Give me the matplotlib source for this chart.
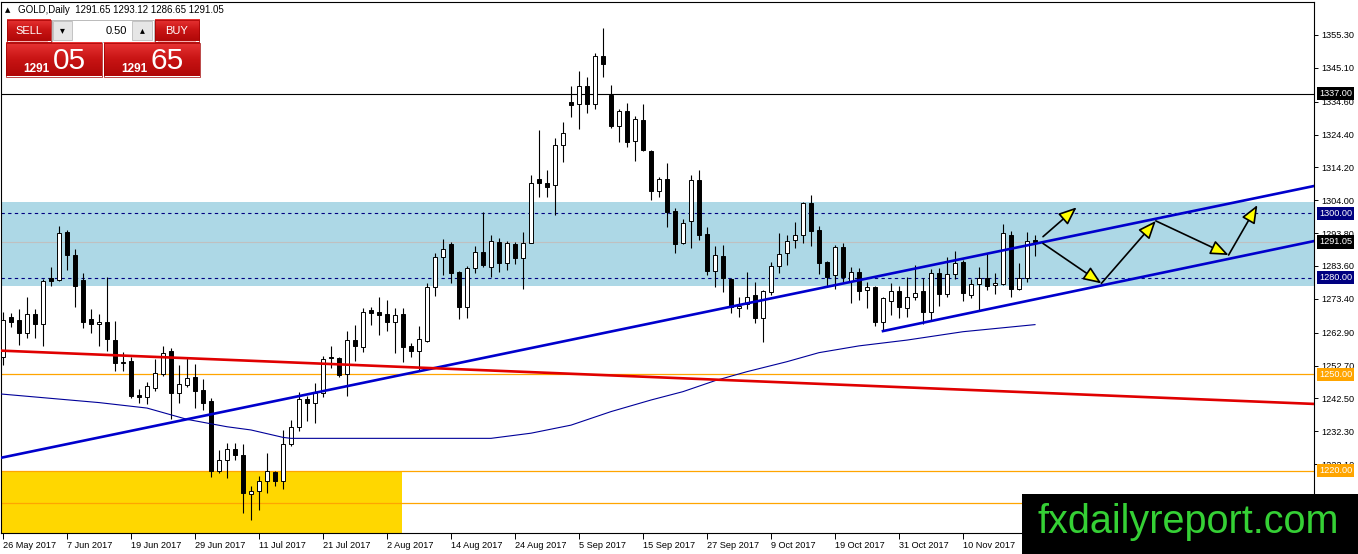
import matplotlib
matplotlib.use("Agg")
import matplotlib.pyplot as plt
import matplotlib.transforms as mtransforms
from matplotlib.patches import Rectangle, FancyArrowPatch
from matplotlib.colors import LinearSegmentedColormap
import numpy as np
import pandas as pd

plt.rcParams['font.family'] = ['Liberation Sans', 'DejaVu Sans']

# ---- data ----
symbol = "GOLD,Daily"
last_quote = [1291.65, 1293.12, 1286.65, 1291.05]   # O H L C of the current bar
first_day = "2017-05-26"

opens = [1255.4, 1267.9, 1266.8, 1262.7, 1268.6, 1265.5, 1280.0, 1279.2, 1294.2, 1287.0,
         1279.3, 1267.1, 1265.5, 1266.1, 1260.6, 1253.6, 1254.1, 1243.6, 1242.8, 1245.8,
         1250.0, 1257.2, 1244.3, 1246.7, 1249.1, 1245.1, 1241.7, 1220.1, 1223.4, 1226.7,
         1224.8, 1212.8, 1213.9, 1217.0, 1219.6, 1217.0, 1228.3, 1233.7, 1242.2, 1241.0,
         1244.1, 1255.3, 1254.9, 1250.1, 1260.6, 1258.5, 1269.9, 1269.2, 1268.7, 1266.3,
         1268.7, 1258.9, 1257.3, 1260.4, 1277.2, 1286.3, 1290.4, 1281.6, 1271.0, 1282.9,
         1287.9, 1283.4, 1291.1, 1284.6, 1290.4, 1286.0, 1290.8, 1310.5, 1309.5, 1308.6,
         1321.1, 1334.6, 1333.8, 1339.5, 1333.8, 1348.8, 1336.7, 1327.1, 1331.8, 1322.5,
         1328.9, 1319.3, 1306.9, 1310.5, 1300.7, 1290.6, 1297.7, 1310.3, 1293.4, 1282.1,
         1286.7, 1279.6, 1270.5, 1271.8, 1274.6, 1267.6, 1275.6, 1283.6, 1287.5, 1291.7,
         1293.2, 1303.1, 1294.8, 1284.7, 1280.8, 1289.6, 1278.9, 1281.7, 1276.1, 1277.0,
         1266.3, 1272.8, 1275.8, 1270.5, 1274.1, 1275.8, 1269.4, 1281.3, 1274.8, 1281.0,
         1284.8, 1274.6, 1277.9, 1280.0, 1277.6, 1278.0, 1293.2, 1276.4, 1280.0, 1291.65]
highs = [1269.4, 1268.9, 1270.2, 1273.9, 1270.2, 1279.5, 1283.4, 1296.0, 1294.8, 1288.8,
         1281.5, 1270.2, 1268.6, 1280.3, 1266.5, 1256.8, 1255.4, 1245.3, 1247.5, 1254.6,
         1258.8, 1258.1, 1252.9, 1255.1, 1253.2, 1248.5, 1242.5, 1226.5, 1228.8, 1228.8,
         1228.3, 1215.3, 1218.4, 1225.5, 1220.0, 1232.7, 1235.8, 1244.4, 1243.2, 1247.4,
         1255.7, 1258.8, 1255.4, 1263.4, 1265.3, 1270.7, 1271.0, 1273.9, 1273.0, 1270.5,
         1270.5, 1259.8, 1265.0, 1278.4, 1287.7, 1291.9, 1291.1, 1282.0, 1283.6, 1289.9,
         1300.5, 1293.2, 1292.2, 1291.5, 1291.1, 1294.1, 1311.8, 1325.8, 1313.4, 1323.2,
         1328.4, 1339.5, 1344.2, 1342.2, 1349.8, 1357.4, 1339.8, 1332.2, 1334.3, 1330.2,
         1333.9, 1319.6, 1311.3, 1315.5, 1301.5, 1298.2, 1311.8, 1313.4, 1295.8, 1289.9,
         1290.0, 1279.8, 1274.1, 1281.6, 1278.5, 1276.2, 1284.9, 1293.7, 1293.2, 1297.2,
         1303.4, 1305.6, 1296.0, 1285.0, 1290.1, 1290.6, 1283.2, 1282.9, 1278.7, 1277.4,
         1274.1, 1278.4, 1277.4, 1280.3, 1283.9, 1280.0, 1282.6, 1282.9, 1286.5, 1288.3,
         1285.5, 1279.5, 1283.2, 1287.7, 1281.3, 1296.6, 1294.5, 1284.4, 1294.2, 1293.12]
lows = [1252.9, 1264.8, 1259.1, 1261.2, 1261.2, 1258.8, 1277.5, 1279.0, 1282.4, 1271.0,
        1264.4, 1262.9, 1258.8, 1257.2, 1251.0, 1251.1, 1242.7, 1241.2, 1240.7, 1244.8,
        1249.5, 1236.2, 1241.2, 1246.1, 1239.4, 1238.9, 1218.0, 1219.3, 1217.8, 1223.4,
        1207.0, 1204.8, 1207.9, 1213.2, 1215.3, 1214.3, 1227.7, 1232.5, 1235.6, 1235.0,
        1243.0, 1251.8, 1249.1, 1243.2, 1254.2, 1257.0, 1265.3, 1262.2, 1263.5, 1256.7,
        1253.9, 1255.3, 1251.1, 1259.9, 1274.3, 1280.8, 1278.4, 1267.1, 1267.6, 1281.5,
        1283.4, 1280.1, 1281.8, 1282.4, 1284.2, 1276.4, 1290.6, 1304.9, 1304.9, 1299.4,
        1316.0, 1329.9, 1326.0, 1331.2, 1332.2, 1342.4, 1326.3, 1322.2, 1320.6, 1316.3,
        1319.4, 1304.1, 1304.9, 1295.6, 1287.7, 1290.4, 1289.1, 1291.7, 1280.8, 1277.2,
        1275.6, 1269.1, 1267.9, 1270.2, 1266.0, 1260.1, 1274.6, 1281.5, 1283.9, 1289.3,
        1290.6, 1289.9, 1281.1, 1277.2, 1276.4, 1278.7, 1272.0, 1273.0, 1270.5, 1265.1,
        1263.4, 1268.4, 1267.4, 1267.7, 1273.0, 1265.6, 1266.8, 1271.2, 1274.1, 1279.5,
        1272.8, 1273.6, 1269.7, 1276.1, 1274.8, 1277.8, 1274.1, 1276.1, 1278.5, 1286.65]
closes = [1266.8, 1266.3, 1262.7, 1268.6, 1265.5, 1278.9, 1279.0, 1293.7, 1287.0, 1277.5,
          1266.3, 1265.5, 1266.1, 1260.8, 1253.6, 1253.8, 1243.2, 1242.8, 1246.4, 1250.3,
          1256.5, 1244.3, 1247.0, 1248.7, 1244.9, 1241.2, 1220.1, 1223.4, 1226.7, 1224.8,
          1213.0, 1213.9, 1217.0, 1220.1, 1217.0, 1228.3, 1233.7, 1242.2, 1241.0, 1244.1,
          1254.6, 1255.0, 1249.8, 1260.6, 1258.9, 1269.2, 1269.1, 1268.4, 1266.3, 1268.4,
          1258.5, 1257.3, 1260.8, 1277.0, 1286.3, 1288.8, 1281.5, 1271.0, 1282.9, 1287.9,
          1283.9, 1291.5, 1284.6, 1290.6, 1286.0, 1290.8, 1309.5, 1309.3, 1308.2, 1321.1,
          1324.8, 1333.7, 1339.5, 1333.8, 1348.8, 1346.2, 1327.1, 1331.8, 1322.2, 1329.2,
          1319.6, 1307.0, 1310.5, 1300.5, 1290.4, 1296.9, 1310.3, 1293.2, 1282.1, 1287.0,
          1279.8, 1271.0, 1271.2, 1274.1, 1267.6, 1275.9, 1283.6, 1287.2, 1291.4, 1293.2,
          1303.1, 1294.6, 1284.6, 1280.3, 1289.4, 1280.3, 1281.6, 1275.9, 1277.0, 1266.3,
          1273.6, 1275.8, 1270.8, 1274.1, 1275.3, 1269.4, 1281.3, 1274.8, 1281.0, 1284.4,
          1275.3, 1277.9, 1279.8, 1277.4, 1278.2, 1293.7, 1276.4, 1280.0, 1291.5, 1291.05]

# slow moving average (thin navy line), read at a few bars
ma_bars = [-0.4, 12, 18, 23, 28, 31, 35, 36, 61, 66, 71, 76, 81, 85, 89, 93, 98, 102, 107, 113, 120, 129]
ma_vals = [1243.9, 1241.2, 1239.5, 1236.0, 1233.7, 1232.7, 1230.4, 1230.1, 1230.1, 1231.7, 1234.2,
           1238.4, 1242.0, 1244.6, 1248.0, 1250.8, 1253.9, 1256.7, 1258.8, 1260.6, 1263.2, 1265.4]

# drawn objects (bar index, price)
blue_trend = [(0, 1224.2), (129, 1290.5)]
red_trend = [(0, 1257.3), (129, 1244.3)]
channel_low = [(110, 1263.4), (164, 1291.4)]
zone_blue = (1277.5, 1303.5)
zone_gold_top, zone_gold_end = 1220.0, 49.9
level_black = 1337.00
levels_dashed = [1300.00, 1280.00]
levels_orange = [1250.00, 1220.00, 1210.00]
arrow_up = [(130.0, 1292.7), (134.2, 1301.8)]
zigzag = [(130.0, 1290.6), (137.3, 1278.2), (144.1, 1297.6), (153.2, 1287.0), (156.8, 1302.5)]

y_ticks = [1355.30, 1345.10, 1334.60, 1324.40, 1314.20, 1304.00, 1293.80, 1283.60,
           1273.40, 1262.90, 1252.70, 1242.50, 1232.30, 1222.10, 1211.90]
price_tags = [(1337.00, 'black'), (1300.00, '#000080'), (1291.05, 'black'),
              (1280.00, '#000080'), (1250.00, '#FFA500'), (1220.00, '#FFA500')]

W, H = 1358, 554
fig = plt.figure(figsize=(W / 100, H / 100), dpi=100)
fig.patch.set_facecolor('white')
ax = fig.add_axes([1 / W, 21 / H, 1313 / W, 531 / H])
ax.set_facecolor('white')

x = np.arange(len(opens))
o, h, l, c = map(np.array, (opens, highs, lows, closes))
days = pd.bdate_range(first_day, periods=len(opens))

# zones and levels
ax.axhspan(zone_blue[0], zone_blue[1], color='#ADD8E6', lw=0, zorder=0.5)
ax.add_patch(Rectangle((-5, 1180), zone_gold_end + 5, zone_gold_top - 1180,
                       fc='#FFD700', ec='none', zorder=0.6))
ax.axhline(level_black, color='black', lw=0.8, zorder=1)
for lv in levels_dashed:
    ax.axhline(lv, color='#000080', lw=0.8, ls=(0, (3, 3)), zorder=1)
for lv in levels_orange:
    ax.axhline(lv, color='#FFA500', lw=0.9, zorder=1)
ax.axhline(last_quote[3], color='#C0C0C0', lw=0.8, zorder=1)

# candles
up = c >= o
ax.vlines(x, l, h, color='black', lw=0.8, zorder=3)
ax.bar(x, np.abs(c - o), bottom=np.minimum(o, c), width=0.55,
       color=np.where(up, 'white', 'black'), edgecolor='black', lw=0.7, zorder=3.5)

# moving average and trend lines
ax.plot(ma_bars, ma_vals, color='#000099', lw=0.8, zorder=4)
ax.axline(blue_trend[0], blue_trend[1], color='#0000CC', lw=1.9, zorder=4.5)
ax.axline(red_trend[0], red_trend[1], color='#E00000', lw=1.9, zorder=4.5)
ax.plot(*zip(*channel_low), color='#0000CC', lw=1.9, zorder=4.5)

# projected path arrows
segs = [arrow_up] + list(zip(zigzag[:-1], zigzag[1:]))
for p0, p1 in segs:
    ax.add_patch(FancyArrowPatch(p0, p1, arrowstyle='-|>,head_length=1.1,head_width=0.45',
                                 mutation_scale=10, fc='#FFFF00', ec='black', lw=1.2,
                                 shrinkA=0, shrinkB=0, zorder=6))

ax.set_xlim(-0.25, 163.875)
ax.set_ylim(1200.72, 1365.54)

ticks_x = x[::8]
ax.set_xticks(ticks_x)
ax.set_xticklabels([f"{d.day} {d.strftime('%b %Y')}" for d in days[::8]], ha='left')
ax.yaxis.tick_right()
ax.set_yticks(y_ticks)
ax.set_yticklabels([f"{v:.2f}" for v in y_ticks])
ax.tick_params(axis='x', length=4, width=0.7, pad=2, labelsize=6.6)
ax.tick_params(axis='y', length=3, width=0.7, pad=2, labelsize=6.6)
for s in ax.spines.values():
    s.set_color('black')
    s.set_linewidth(0.8)

tag_tr = mtransforms.blended_transform_factory(ax.transAxes, ax.transData) + \
    mtransforms.ScaledTranslation(5 / 100, 0, fig.dpi_scale_trans)
for price, col in price_tags:
    ax.text(1.0, price, f"{price:.2f}", transform=tag_tr, color='white', fontsize=6.6,
            ha='left', va='center', clip_on=False, zorder=10,
            bbox=dict(boxstyle='square,pad=0.22', fc=col, ec='none'))

# overlay in pixel coordinates: header, trade panel, watermark
ov = fig.add_axes([0, 0, 1, 1], zorder=5)
ov.axis('off')
ov.patch.set_alpha(0)

ov.text(5, 10, '▲', fontsize=5, va='center', family='DejaVu Sans')
ov.text(18, 10, f"{symbol}  " + " ".join(f"{v:.2f}" for v in last_quote),
        fontsize=7, va='center')

red_grad = LinearSegmentedColormap.from_list('btn', ['#E83434', '#C81414', '#B00808'])
grad = np.linspace(0, 1, 32).reshape(-1, 1)


def red_box(x0, y0, w, hgt):
    ov.imshow(grad, cmap=red_grad, extent=(x0, x0 + w, y0 + hgt, y0), aspect='auto',
              interpolation='bilinear', zorder=1)
    ov.add_patch(Rectangle((x0, y0), w, hgt, fc='none', ec='#A00000', lw=0.5, zorder=2))


red_box(6.5, 19.5, 44, 22)
ov.plot([10, 47], [40.5, 40.5], color='#F4A0A0', lw=0.6, zorder=3)
ov.text(28.5, 30.5, 'SELL', color='white', fontsize=8, ha='center', va='center', zorder=3)
ov.add_patch(Rectangle((51.5, 19.5), 102, 22, fc='white', ec='#A0A0A0', lw=0.5))
ov.add_patch(Rectangle((53, 21), 19, 19, fc='#E6E6E6', ec='#B0B0B0', lw=0.5))
ov.add_patch(Rectangle((132, 21), 20, 19, fc='#E6E6E6', ec='#B0B0B0', lw=0.5))
ov.text(62.5, 30.5, '▾', fontsize=7, ha='center', va='center', family='DejaVu Sans')
ov.text(142, 30.5, '▴', fontsize=7, ha='center', va='center', family='DejaVu Sans')
ov.text(127, 30.5, '0.50', fontsize=8, ha='right', va='center')
red_box(154.5, 19.5, 44.5, 22)
ov.plot([158, 195], [40.5, 40.5], color='#F4A0A0', lw=0.6, zorder=3)
ov.text(176.7, 30.5, 'BUY', color='white', fontsize=8, ha='center', va='center', zorder=3)
for x0, big in ((6, '05'), (104, '65')):
    red_box(x0, 42.5, 95.5, 34)
    ov.text(x0 + 17, 71.5, '1291', color='white', fontsize=8.5, fontweight='bold',
            va='baseline', zorder=3)
    ov.text(x0 + 47, 69, big, color='white', fontsize=21.5, va='baseline', zorder=3)

ov.add_patch(Rectangle((1022, 494), 336, 60, fc='black', ec='none', zorder=4))
ov.text(1038, 533, 'fxdailyreport.com', color='#35D035', fontsize=28.5, va='baseline', zorder=5)

ov.set_xlim(0, W)
ov.set_ylim(H, 0)

fig.savefig('out.png', dpi=100)
